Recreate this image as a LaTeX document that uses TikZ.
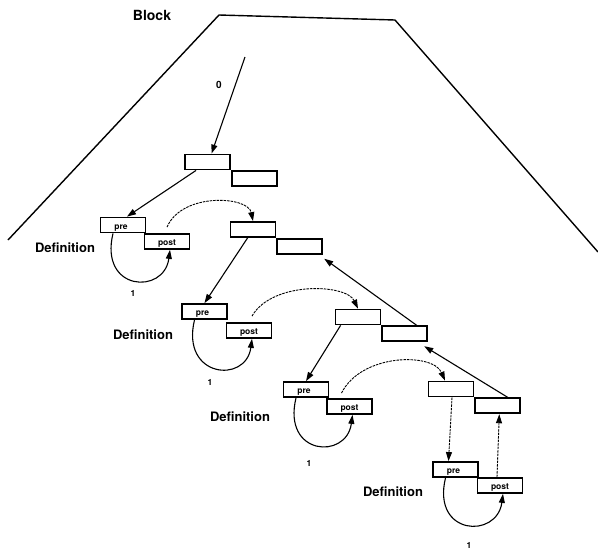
\documentclass[tikz,border=0pt]{standalone}
\usepackage{fontspec}
\setmainfont{TeX Gyre Heros}
\usetikzlibrary{arrows.meta}

\begin{document}
\begin{tikzpicture}[x=1pt,y=-1pt,
  cell/.style={draw, line width=1.8pt, minimum width=45pt, minimum height=15pt, inner sep=0pt},
  tag/.style={font=\bfseries\fontsize{8.5}{8.5}\selectfont, inner sep=0.6pt},
  caption/.style={font=\bfseries\fontsize{13}{13}\selectfont, inner sep=0pt},
  num/.style={font=\bfseries\fontsize{8.5}{8.5}\selectfont, inner sep=0pt},
  link/.style={line width=1.1pt, -{Triangle[length=9pt,width=6pt]}},
  hop/.style={link, line width=0.9pt, dash pattern=on 2.5pt off 1pt},
]
\useasboundingbox (0,0) rectangle (598,552);

% block outline
\draw[line width=1.4pt] (8,240) -- (219,15) -- (395,20) -- (598,252);
\node[caption, font=\bfseries\fontsize{14}{14}\selectfont] (block) at (152,15) {Block};

% chain of stepped cell pairs
\node[cell] (a1) at (207.5,162) {};
\node[cell, anchor=north west] (b1) at (a1.south east) {};
\node[cell] (a2) at (253,229.5) {};
\node[cell, anchor=north west] (b2) at (a2.south east) {};
\node[cell] (a3) at (358,317) {};
\node[cell, anchor=north west] (b3) at (a3.south east) {};
\node[cell] (a4) at (451,389) {};
\node[cell, anchor=north west] (b4) at (a4.south east) {};

% definition pairs
\node[cell] (pre1) at (123,225) {};
\node[cell] (post1) at (167,241.5) {};
\node[cell] (pre2) at (204.5,311.5) {};
\node[cell] (post2) at (249,330.5) {};
\node[cell] (pre3) at (306,389.5) {};
\node[cell] (post3) at (349.5,406.5) {};
\node[cell] (pre4) at (455.5,469.5) {};
\node[cell] (post4) at (500,485.5) {};

\foreach \i in {1,2,3,4} {
  \node[tag, anchor=south] (pt\i) at ([xshift=-2pt,yshift=1.5pt]pre\i.south) {pre};
  \node[tag, anchor=south] (qt\i) at ([yshift=1.5pt]post\i.south) {post};
}

% captions and counts
\node[caption] (d1) at (65,248) {Definition};
\node[caption] (d2) at (143,335) {Definition};
\node[caption] (d3) at (240,417) {Definition};
\node[caption] (d4) at (393,492) {Definition};
\node[num] (n1) at (133,293) {1};
\node[num] (n2) at (210,382) {1};
\node[num] (n3) at (309,463) {1};
\node[num] (n4) at (469,545) {1};
\node[num, font=\bfseries\fontsize{10}{10}\selectfont] (n0) at (219,85) {0};

% entry arrow
\coordinate (z0) at (245,57);
\draw[link] (z0) -- ([xshift=4pt]a1.north);

% down links to pre cells
\draw[link] ([xshift=12pt]a1.south west) -- ([xshift=4pt]pre1.north);
\draw[link] ([xshift=18pt]a2.south west) -- (pre2.north);
\draw[link] ([xshift=6pt]a3.south west) -- (pre3.north);
\draw[hop] ([xshift=1pt]a4.south) -- ([xshift=-7pt]pre4.north);

% self loops pre -> post
\foreach \i in {1,2,3,4} {
  \draw[link] ([xshift=-10pt]pre\i.south) .. controls +(-14,58) and +(-6,45) .. ([xshift=3pt]post\i.south);
}

% post -> next cell
\draw[hop] ([yshift=6pt]post1.north) .. controls +(15,-35) and +(-5,-25) .. (a2.north);
\draw[hop] ([xshift=3pt,yshift=6pt]post2.north) .. controls +(20,-35) and +(-12,-25) .. (a3.north);
\draw[hop] ([xshift=-8pt,yshift=5pt]post3.north) .. controls +(20,-40) and +(-12,-28) .. ([xshift=-6pt]a4.north);

% return links
\draw[hop] ([xshift=-3pt]post4.north) -- ([xshift=1.5pt]b4.south);
\draw[link] ([xshift=10pt]b4.north) -- ([xshift=-4pt,yshift=-4pt]b3.south east);
\draw[link] ([xshift=12pt]b3.north) -- ([xshift=1pt,yshift=-4pt]b2.south east);
\end{tikzpicture}
\end{document}
